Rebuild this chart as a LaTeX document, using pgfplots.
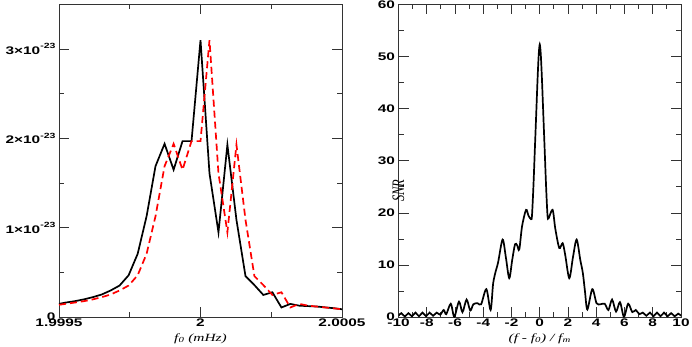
\documentclass[border=0pt]{standalone}
\usepackage{fontspec}
\setmainfont{Liberation Sans}
\newfontfamily\tickfont[FakeStretch=1.4]{Liberation Sans}
\newfontfamily\labfont[FakeStretch=1.4]{Liberation Serif}
\newfontfamily\ylabfont{Liberation Serif}
\usepackage{graphicx}
\usepackage{pgfplots}
\pgfplotsset{compat=1.18}
\newcommand{\sci}[1]{#1\texttimes10\raisebox{0.5em}{\fontsize{7.5}{8}\selectfont -23}}
\newcommand{\zerolab}{\raisebox{1pt}[\height][\depth]{0}}
\pgfplotsset{
  myaxis/.style={
    scale only axis, width=283pt, height=313pt,
    axis line style={black!80, line width=0.8pt},
    every tick/.style={black!80, line width=0.8pt},
    major tick length=10pt, minor tick length=5pt,
    tick align=inside,
    tick label style={font=\tickfont\bfseries\fontsize{11}{13}\selectfont},
    xticklabel style={inner ysep=1.5pt},
    /pgf/number format/assume math mode=true,
    xlabel style={at={(axis description cs:0.5,0)}, anchor=center, yshift=-21pt,
      font=\labfont\itshape\fontsize{11}{13}\selectfont},
  }
}
\pgfplotstableread{
u s
-5 0.15
-4.76 0.165
-4.445 0.18
-4.13 0.20
-3.81 0.225
-3.49 0.255
-3.175 0.30
-2.86 0.355
-2.54 0.47
-2.22 0.71
-1.905 1.13
-1.59 1.69
-1.27 1.94
-0.95 1.65
-0.635 1.97
-0.3175 1.97
0 3.10
0.3175 1.61
0.635 0.95
0.95 1.93
1.27 1.09
1.59 0.46
1.905 0.36
2.22 0.25
2.54 0.28
2.86 0.11
3.175 0.15
3.49 0.13
3.81 0.125
4.13 0.12
4.445 0.11
4.76 0.10
5 0.09
}\blackdata
\pgfplotstableread{
u s
-5 0.14
-4.445 0.165
-4.13 0.18
-3.81 0.20
-3.49 0.225
-3.175 0.255
-2.86 0.30
-2.54 0.355
-2.22 0.47
-1.905 0.71
-1.59 1.13
-1.27 1.69
-0.95 1.94
-0.635 1.65
-0.3175 1.97
0 1.97
0.3175 3.10
0.635 1.61
0.95 0.95
1.27 1.93
1.59 1.09
1.905 0.46
2.22 0.36
2.54 0.25
2.86 0.28
3.175 0.11
3.49 0.15
3.81 0.13
5 0.09
}\reddata
\pgfplotstableread{
u s
-10 0.3
-9.8 0.8
-9.55 0.15
-9.3 0.8
-9.05 0.2
-8.8 0.9
-8.55 0.2
-8.3 0.9
-8.05 0.2
-7.8 0.9
-7.55 0.3
-7.3 0.9
-7.05 0.5
-6.8 1.4
-6.62 0.6
-6.3 2.6
-6.05 0.1
-5.72 3.0
-5.47 1.0
-5.18 3.4
-4.92 1.3
-4.7 2.5
-4.4 2.7
-4.15 2.5
-3.78 5.4
-3.48 1.4
-3.3 6.5
-3.1 9.0
-2.95 10.5
-2.63 14.9
-2.4 11.5
-2.16 7.5
-1.95 11
-1.75 14.0
-1.6 13.8
-1.45 13.0
-1.25 17.5
-0.97 20.6
-0.8 19.5
-0.62 18.8
-0.55 19.5
-0.45 25
-0.35 32
-0.25 39
-0.15 46
-0.07 50.5
0 52.3
0.07 50.5
0.15 46
0.25 39
0.35 32
0.45 25
0.55 19.5
0.63 19.0
0.91 20.6
1.1 17
1.38 13.3
1.62 14.2
1.8 12
2.09 7.5
2.35 11.5
2.61 14.9
2.87 11
3.05 8.5
3.2 5
3.37 1.5
3.72 5.4
4.02 2.7
4.3 2.5
4.6 2.6
4.86 1.4
5.12 3.4
5.4 1.1
5.68 2.9
5.96 0.1
6.26 2.6
6.55 1.0
6.8 1.4
7.05 0.6
7.3 0.9
7.55 0.3
7.8 0.9
8.05 0.2
8.3 0.9
8.55 0.2
8.8 0.9
9.05 0.2
9.3 0.8
9.55 0.2
9.8 0.7
10 0.3
}\snrdata
\begin{document}
\begin{tikzpicture}
\path[use as bounding box] (-59pt,-28.7pt) rectangle (633pt,317.3pt);
\begin{axis}[myaxis, at={(0,0)}, anchor=south west,
  xmin=-5, xmax=5, ymin=0, ymax=3.5,
  xtick={-5,0,5}, xticklabels={1.9995,2,2.0005},
  minor xtick={-2.5,2.5},
  ytick={0,1,2,3}, yticklabels={\zerolab,\sci{1},\sci{2},\sci{3}},
  minor ytick={0.5,1.5,2.5},
  xlabel={f\textsubscript{0} (mHz)},
]
\addplot[black, line width=1.7pt] table[x=u,y=s] {\blackdata};
\addplot[red, line width=1.7pt, dash pattern=on 7pt off 4pt] table[x=u,y=s] {\reddata};
\end{axis}
\begin{axis}[myaxis, at={(339.5pt,0)}, anchor=south west, width=282.5pt,
  xmin=-10, xmax=10, ymin=0, ymax=60,
  xtick={-10,-8,...,10}, minor xtick={-9,-7,...,9},
  ytick={0,10,...,60}, yticklabels={\zerolab,10,20,30,40,50,60},
  minor ytick={5,15,...,55},
  xlabel={(f - f\textsubscript{0}) / f\textsubscript{m}},
  ylabel={\scalebox{1}[1.4]{SNR}},
  ylabel style={at={(axis description cs:0,0.5)}, anchor=center, xshift=-30pt,
    font=\ylabfont\itshape\fontsize{12.5}{14}\selectfont},
]
\addplot[black, line width=1.7pt, smooth, tension=0.5] table[x=u,y=s] {\snrdata};
\end{axis}
\end{tikzpicture}
\end{document}
